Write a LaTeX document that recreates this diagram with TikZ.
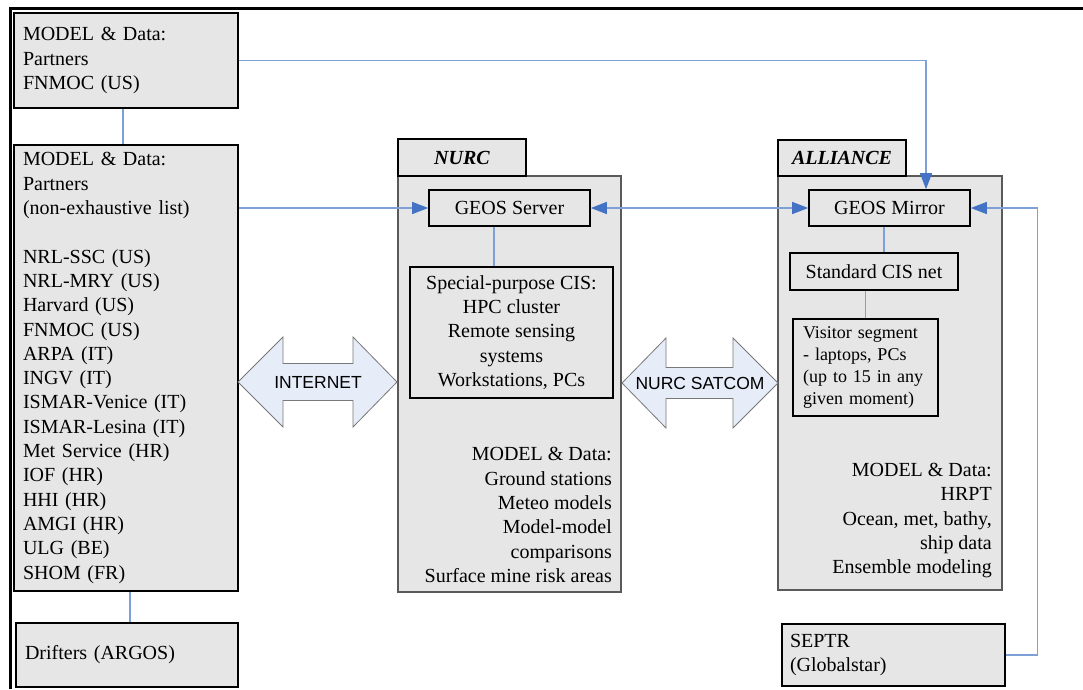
\documentclass[tikz,border=0pt]{standalone}
\usepackage{fontspec}
\setmainfont{Liberation Serif}
\newfontfamily\arialfont{Liberation Sans}
\usepackage{xcolor}
\usetikzlibrary{arrows.meta}

\definecolor{boxgrey}{RGB}{230,230,230}
\definecolor{linkblue}{RGB}{125,160,215}
\definecolor{headblue}{RGB}{68,114,196}
\definecolor{pipefill}{RGB}{230,236,248}
\definecolor{pipeline}{RGB}{120,120,120}
\definecolor{framegrey}{RGB}{90,90,90}

\begin{document}
\begin{tikzpicture}[x=1pt, y=-1pt,
  every node/.style={font=\fontsize{20}{24.3}\selectfont},
  databox/.style={draw, line width=1.3pt, fill=boxgrey, inner xsep=9pt, inner ysep=0pt, align=left},
  sitebox/.style={draw=framegrey, line width=1.2pt, fill=boxgrey, inner sep=0pt},
  tabbox/.style={draw, line width=1.3pt, fill=boxgrey, inner sep=0pt, font=\fontsize{20}{24}\selectfont\bfseries\itshape},
  unitbox/.style={draw, line width=1.6pt, fill=boxgrey, inner sep=0pt, align=center},
  link/.style={draw=linkblue, line width=1.3pt},
  feed/.style={link, -{Triangle[length=16pt, width=12pt, color=headblue]}},
  twoway/.style={link, {Triangle[length=16pt, width=12pt, color=headblue]}-{Triangle[length=16pt, width=12pt, color=headblue]}},
  pipe/.style={draw=pipeline, fill=pipefill, line width=0.8pt, line join=miter},
  pipelabel/.style={font=\arialfont\fontsize{17.5}{20}\selectfont, inner sep=0pt}]
\useasboundingbox (0,0) rectangle (1083,689);

\draw[line width=3pt] (10,689) -- (10,8) -- (1083,8);

\node[databox, minimum width=224pt, minimum height=95pt, text width=206pt] (fnmoc) at (126,60.5) {MODEL \& Data:\\Partners\\FNMOC (US)};
\node[databox, minimum width=224pt, minimum height=446pt, text width=206pt] (partners) at (126,368) {MODEL \& Data:\\Partners\\(non-exhaustive list)\\[24.3pt]NRL-SSC (US)\\NRL-MRY (US)\\Harvard (US)\\FNMOC (US)\\ARPA (IT)\\INGV (IT)\\ISMAR-Venice (IT)\\ISMAR-Lesina (IT)\\Met Service (HR)\\IOF (HR)\\HHI (HR)\\AMGI (HR)\\ULG (BE)\\SHOM (FR)};
\node[databox, minimum width=222pt, minimum height=64pt, text width=204pt] (drifters) at (127,655) {Drifters (ARGOS)};

\node[sitebox, minimum width=223pt, minimum height=416pt] (nurc) at (509.5,384) {};
\node[tabbox, minimum width=128pt, minimum height=37pt] (nurctab) at (462,157.5) {NURC};
\node[unitbox, minimum width=161pt, minimum height=36pt] (server) at (509.5,208) {GEOS Server};
\node[unitbox, minimum width=203pt, minimum height=131pt] (special) at (511.5,332.5) {Special-purpose CIS:\\HPC cluster\\Remote sensing\\systems\\Workstations, PCs};
\node[anchor=east, align=right, inner sep=0pt] (nurcdata) at (612,515) {MODEL \& Data:\\Ground stations\\Meteo models\\Model-model\\comparisons\\Surface mine risk areas};

\node[sitebox, minimum width=224pt, minimum height=414pt] (alliance) at (890,383) {};
\node[tabbox, minimum width=128pt, minimum height=36pt] (alliancetab) at (842,158) {ALLIANCE};
\node[unitbox, minimum width=161pt, minimum height=36pt] (mirror) at (889.5,208) {GEOS Mirror};
\node[unitbox, minimum width=168pt, minimum height=37pt] (cisnet) at (874,271.5) {Standard CIS net};
\node[unitbox, align=left, inner xsep=10pt, text width=125pt, minimum height=97pt, font=\fontsize{18}{22}\selectfont] (visitor) at (865.5,367.5) {Visitor segment\\- laptops, PCs\\(up to 15 in any\\given moment)};
\node[anchor=east, align=right, inner sep=0pt] (alliancedata) at (992,520.5) {MODEL \& Data:\\HRPT\\Ocean, met, bathy,\\ship data\\Ensemble modeling};

\node[databox, minimum width=223pt, minimum height=62pt, text width=207pt, inner xsep=8pt] (septr) at (893.5,655) {SEPTR\\(Globalstar)};

\draw[pipe] (238,382) -- (283,337) -- (283,363.5) -- (353,363.5) -- (353,337) -- (397,382) -- (353,427) -- (353,400.5) -- (283,400.5) -- (283,427) -- cycle;
\node[pipelabel] (internet) at (318,382) {INTERNET};
\draw[pipe] (622,383) -- (666,338) -- (666,367.5) -- (733,367.5) -- (733,338) -- (778,383) -- (733,428) -- (733,398.5) -- (666,398.5) -- (666,428) -- cycle;
\node[pipelabel] (satcom) at (700,383) {NURC SATCOM};

\draw[link] ([xshift=-3pt]fnmoc.south) -- ([xshift=-3pt]fnmoc.south |- partners.north);
\draw[link] ([xshift=4pt]partners.south) -- ([xshift=4pt]partners.south |- drifters.north);
\draw[feed] (partners.east |- server) -- (server);
\draw[twoway] (server) -- (mirror);
\draw[feed] (fnmoc) -| ([xshift=36.5pt]mirror.north);
\draw[link] ([xshift=-15.5pt]server.south) -- ([xshift=-15.5pt]server.south |- special.north);
\draw[link] ([xshift=-5.5pt]mirror.south) -- ([xshift=-5.5pt]mirror.south |- cisnet.north);
\draw[link] (cisnet.south -| visitor.north) -- (visitor.north);
\draw[feed] (septr.east) -- ++(32,0) |- (mirror.east);

\end{tikzpicture}
\end{document}
